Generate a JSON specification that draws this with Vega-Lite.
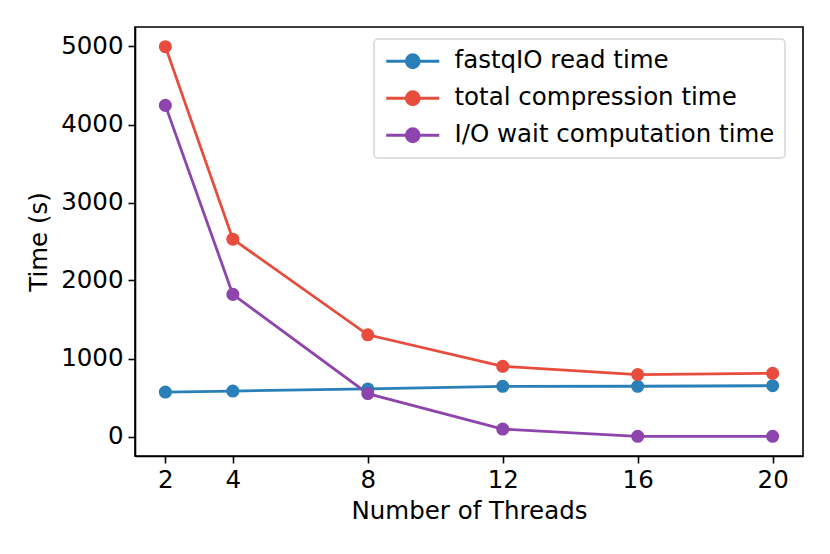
{
  "$schema": "https://vega.github.io/schema/vega-lite/v6.json",
  "width": 668,
  "height": 429,
  "autosize": {"type": "none"},
  "padding": {"left": 135, "top": 27, "right": 27, "bottom": 98},
  "config": {
    "background": "white",
    "font": "DejaVu Sans",
    "view": {"stroke": "black", "strokeWidth": 1.6},
    "axis": {
      "grid": false,
      "domainColor": "black",
      "domainWidth": 1.6,
      "tickColor": "black",
      "tickWidth": 1.6,
      "tickSize": 7,
      "labelPadding": 5,
      "labelFont": "DejaVu Sans",
      "labelFontSize": 24.5,
      "labelColor": "black",
      "titleFont": "DejaVu Sans",
      "titleFontSize": 24.5,
      "titleFontWeight": "normal",
      "titleColor": "black"
    }
  },
  "data": {
    "values": [
      {"threads": 2, "series": "fastqIO read time", "time": 570},
      {"threads": 4, "series": "fastqIO read time", "time": 583},
      {"threads": 8, "series": "fastqIO read time", "time": 610},
      {"threads": 12, "series": "fastqIO read time", "time": 643},
      {"threads": 16, "series": "fastqIO read time", "time": 644},
      {"threads": 20, "series": "fastqIO read time", "time": 651},
      {"threads": 2, "series": "total compression time", "time": 4998},
      {"threads": 4, "series": "total compression time", "time": 2530},
      {"threads": 8, "series": "total compression time", "time": 1304},
      {"threads": 12, "series": "total compression time", "time": 900},
      {"threads": 16, "series": "total compression time", "time": 794},
      {"threads": 20, "series": "total compression time", "time": 810},
      {"threads": 2, "series": "I/O wait computation time", "time": 4245},
      {"threads": 4, "series": "I/O wait computation time", "time": 1822},
      {"threads": 8, "series": "I/O wait computation time", "time": 550},
      {"threads": 12, "series": "I/O wait computation time", "time": 95},
      {"threads": 16, "series": "I/O wait computation time", "time": 2},
      {"threads": 20, "series": "I/O wait computation time", "time": 2}
    ]
  },
  "encoding": {
    "x": {
      "field": "threads",
      "type": "quantitative",
      "title": "Number of Threads",
      "scale": {"domain": [1.1, 20.9], "nice": false, "zero": false},
      "axis": {"values": [2, 4, 8, 12, 16, 20], "format": "d", "titlePadding": 8}
    },
    "y": {
      "field": "time",
      "type": "quantitative",
      "title": "Time (s)",
      "scale": {"domain": [-250, 5250], "nice": false, "zero": false},
      "axis": {"values": [0, 1000, 2000, 3000, 4000, 5000], "format": "d", "titlePadding": 9}
    },
    "color": {
      "field": "series",
      "type": "nominal",
      "scale": {
        "domain": ["fastqIO read time", "total compression time", "I/O wait computation time"],
        "range": ["#2980b9", "#e74c3c", "#8e44ad"]
      },
      "legend": {
        "title": null,
        "orient": "none",
        "legendX": 239,
        "legendY": 12,
        "padding": 10,
        "strokeColor": "#d6d6d6",
        "cornerRadius": 4,
        "fillColor": "white",
        "symbolType": "M-1,0L4.3,0M1,0A0.65,0.65,0,1,0,2.3,0A0.65,0.65,0,1,0,1,0Z",
        "symbolSize": 400,
        "symbolStrokeWidth": 2.8,
        "symbolOpacity": 1,
        "labelFont": "DejaVu Sans",
        "labelFontSize": 24.5,
        "labelColor": "black",
        "labelOffset": 46,
        "labelLimit": 450,
        "rowPadding": 11,
        "encode": {
          "legend": {"update": {"strokeWidth": {"value": 1.5}}},
          "symbols": {
            "update": {
              "fill": {"scale": "color", "field": "value"},
              "stroke": {"scale": "color", "field": "value"}
            }
          }
        }
      }
    }
  },
  "layer": [
    {"mark": {"type": "line", "strokeWidth": 2.8}},
    {"mark": {"type": "point", "filled": true, "size": 170, "opacity": 1}}
  ]
}
